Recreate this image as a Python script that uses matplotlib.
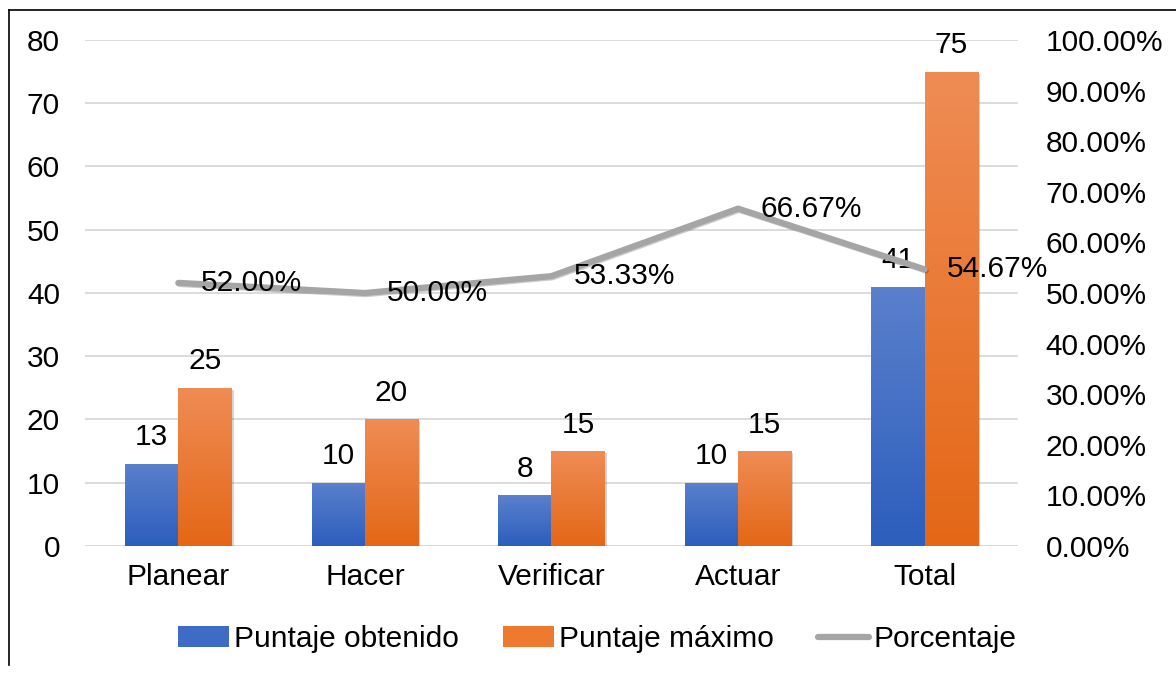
import numpy as np
import matplotlib.pyplot as plt
from matplotlib.colors import LinearSegmentedColormap
from matplotlib.patches import Patch
from matplotlib.lines import Line2D
import matplotlib.patheffects as pe

plt.rcParams['font.family'] = ['Liberation Sans', 'DejaVu Sans']

categories = ['Planear', 'Hacer', 'Verificar', 'Actuar', 'Total']
obtenido = [13, 10, 8, 10, 41]
maximo = [25, 20, 15, 15, 75]
porcentaje = [52.00, 50.00, 53.33, 66.67, 54.67]

fig = plt.figure(figsize=(11.76, 6.73), dpi=100)
fig.patch.set_facecolor('white')
ax = fig.add_axes([0.0723, 0.1887, 0.7933, 0.7519])
ax2 = ax.twinx()

x = np.arange(len(categories))
w = 0.285
fs = 21.5

blue_cm = LinearSegmentedColormap.from_list('b', ['#2C5EBD', '#5B80CC'])
orange_cm = LinearSegmentedColormap.from_list('o', ['#E46716', '#EF8C55'])
grad = np.linspace(0, 1, 256).reshape(-1, 1)

shadow = [pe.SimplePatchShadow(offset=(1.5, -1.5), alpha=0.2), pe.Normal()]
b1 = ax.bar(x - w / 2, obtenido, w, color='#4472C4', zorder=2, path_effects=shadow)
b2 = ax.bar(x + w / 2, maximo, w, color='#ED7D31', zorder=2, path_effects=shadow)

for bars, cm in ((b1, blue_cm), (b2, orange_cm)):
    for bar in bars:
        x0 = bar.get_x()
        x1 = x0 + bar.get_width()
        h = bar.get_height()
        im = ax.imshow(grad, extent=[x0, x1, 0, h], origin='lower', aspect='auto',
                       cmap=cm, zorder=3)
        im.set_clip_path(bar)
        ax.annotate(f'{h:g}', (bar.get_x() + bar.get_width() / 2, h),
                    xytext=(0, 9), textcoords='offset points',
                    ha='center', va='bottom', fontsize=fs, color='black', zorder=5)

ax.set_xlim(-0.5, len(categories) - 0.5)
ax.set_ylim(0, 80)
ax.set_yticks(range(0, 81, 10))
ax.yaxis.grid(True, color='#D9D9D9', lw=1.3, zorder=0)
ax.set_axisbelow(True)
ax.set_xticks(x)
ax.set_xticklabels(categories, fontsize=fs)
ax.tick_params(axis='y', length=0, labelsize=fs, pad=18)
ax.tick_params(axis='x', length=0, labelsize=fs, pad=12)
for s in ax.spines.values():
    s.set_visible(False)
ax.axhline(0, color='#D9D9D9', lw=1.3, zorder=1)

ax2.plot(x, porcentaje, color='#A5A5A5', lw=4.5, solid_capstyle='round', zorder=4,
         path_effects=[pe.SimpleLineShadow(offset=(0.8, -0.8), alpha=0.2), pe.Normal()])
ax2.set_ylim(0, 100)
ax2.set_yticks(range(0, 101, 10))
ax2.set_yticklabels([f'{v:.2f}%' for v in range(0, 101, 10)])
ax2.tick_params(axis='y', length=0, labelsize=fs, pad=20)
for s in ax2.spines.values():
    s.set_visible(False)
for xi, p in zip(x, porcentaje):
    ax2.annotate(f'{p:.2f}%', (xi, p), xytext=(16, 0), textcoords='offset points',
                 ha='left', va='center', fontsize=fs, color='black', zorder=6)

handles = [Patch(facecolor='#3E6BC6'), Patch(facecolor='#EE7A2F'),
           Line2D([0], [0], color='#A5A5A5', lw=4.5, solid_capstyle='round')]
fig.legend(handles, ['Puntaje obtenido', 'Puntaje máximo', 'Porcentaje'],
           loc='center', bbox_to_anchor=(0.508, 0.05), ncol=3, frameon=False,
           fontsize=fs, handlelength=1.7, handletextpad=0.15, columnspacing=1.5)

fig.add_artist(Line2D([0.0077, 0.0077], [0.012, 0.985], color='black', lw=1.2,
                      transform=fig.transFigure))
fig.add_artist(Line2D([0.0077, 1.0], [0.985, 0.985], color='black', lw=1.2,
                      transform=fig.transFigure))

fig.savefig('out.png', dpi=100, facecolor='white')
